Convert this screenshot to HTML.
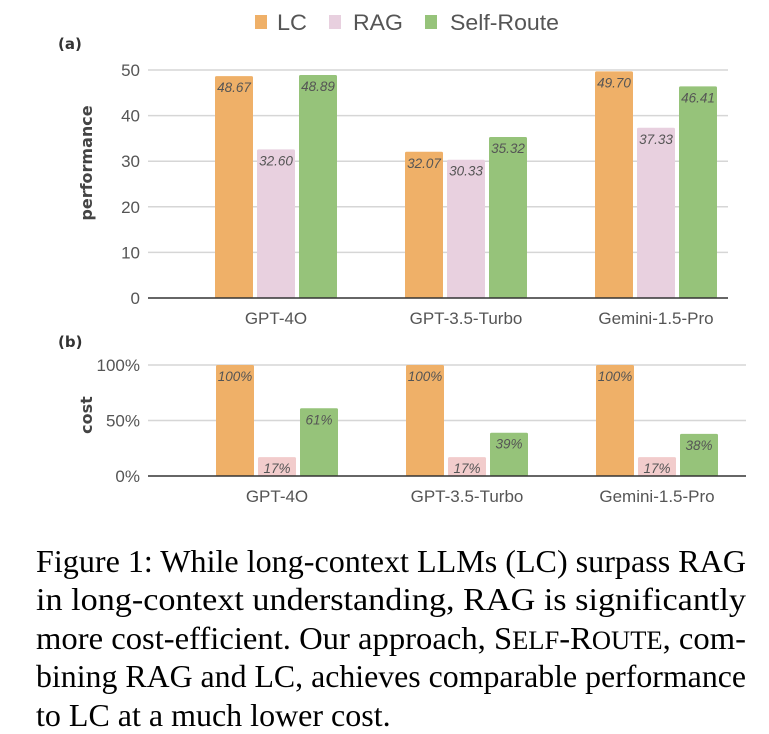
<!DOCTYPE html>
<html><head><meta charset="utf-8"><style>
body{margin:0;background:#fff;width:769px;height:734px;overflow:hidden}
svg{display:block}
.ax{font-family:"Liberation Sans",sans-serif;font-size:17px;fill:#555}
.vl{font-family:"Liberation Sans",sans-serif;font-size:13.5px;font-style:italic;fill:#555}
.cap{font-family:"Liberation Serif",serif;font-size:32px;fill:#000}
</style></head><body>
<svg id="fig" width="769" height="734">
  <g>
    <rect x="255" y="15" width="12" height="14" fill="#efb068"/>
    <text x="277" y="30" font-family="Liberation Sans" font-size="22" fill="#555" textLength="30" lengthAdjust="spacingAndGlyphs">LC</text>
    <rect x="329" y="15" width="12" height="14" fill="#e8d0df"/>
    <text x="353" y="30" font-family="Liberation Sans" font-size="22" fill="#555" textLength="50" lengthAdjust="spacingAndGlyphs">RAG</text>
    <rect x="425" y="15" width="12" height="14" fill="#96c37a"/>
    <text x="450" y="30" font-family="Liberation Sans" font-size="22" fill="#555" textLength="109" lengthAdjust="spacingAndGlyphs">Self-Route</text>
  </g>
  <text x="58" y="49" font-family="DejaVu Sans" font-size="15" font-weight="bold" fill="#333">(a)</text>
  <text x="58" y="347" font-family="DejaVu Sans" font-size="15" font-weight="bold" fill="#333">(b)</text>
  <text transform="translate(92,163) rotate(-90)" text-anchor="middle" font-family="DejaVu Sans" font-size="16" font-weight="bold" fill="#444">performance</text>
  <text transform="translate(92,415) rotate(-90)" text-anchor="middle" font-family="DejaVu Sans" font-size="16" font-weight="bold" fill="#444">cost</text>
  <g id="chartA"></g>
  <g id="chartB"></g>
  <g>
    <text class="cap" x="36" y="572" textLength="710" lengthAdjust="spacingAndGlyphs">Figure 1: While long-context LLMs (LC) surpass RAG</text>
    <text class="cap" x="36" y="610" textLength="710" lengthAdjust="spacingAndGlyphs">in long-context understanding, RAG is significantly</text>
    <text class="cap" x="36" y="649" textLength="710" lengthAdjust="spacingAndGlyphs">more cost-efficient. Our approach, S<tspan font-size="26">ELF</tspan>-R<tspan font-size="26">OUTE</tspan>, com-</text>
    <text class="cap" x="36" y="687" textLength="710" lengthAdjust="spacingAndGlyphs">bining RAG and LC, achieves comparable performance</text>
    <text class="cap" x="36" y="726">to LC at a much lower cost.</text>
  </g>
</svg>
<script>
const categories = ["GPT-4O", "GPT-3.5-Turbo", "Gemini-1.5-Pro"];
const perfLC = [48.67, 32.07, 49.70];
const perfRAG = [32.60, 30.33, 37.33];
const perfSR = [48.89, 35.32, 46.41];
const perfTicks = [0, 10, 20, 30, 40, 50];
const costLC = [100, 100, 100];
const costRAG = [17, 17, 17];
const costSR = [61, 39, 38];
const costTicks = [0, 50, 100];

const NS = "http://www.w3.org/2000/svg";
function mk(parent, tag, attrs, text) {
  const e = document.createElementNS(NS, tag);
  for (const k in attrs) e.setAttribute(k, attrs[k]);
  if (text !== undefined) e.textContent = text;
  parent.appendChild(e);
  return e;
}
function drawChart(g, cfg) {
  const y = v => cfg.y0 - (v - cfg.min) / (cfg.max - cfg.min) * (cfg.y0 - cfg.y1);
  const xc = i => cfg.c0 + i * cfg.step;
  cfg.ticks.forEach(t => {
    if (t !== 0) {
      const l = mk(g, "line", {x1: cfg.xa, x2: cfg.xb, y1: y(t), y2: y(t), stroke: "#d6d6d6", "stroke-width": 1.5});
      
      
    }
    const tx = mk(g, "text", {x: cfg.xa - 8, y: y(t) + 6, "text-anchor": "end", class: "ax"}, t + cfg.suffix);
    
    
  });
  cfg.series.forEach((s, si) => {
    s.vals.forEach((v, i) => {
      const bx = xc(i) + (si - 1) * 42 - 19;
      const r = mk(g, "rect", {x: bx, y: y(v), width: 38, height: y(0) - y(v), fill: s.color, rx: 1.5});
      
      
      const t = mk(g, "text", {x: bx + 19, y: y(v) + 16, "text-anchor": "middle", class: "vl"}, cfg.fmt(v));
      
      
    });
  });
  const ax = mk(g, "line", {x1: cfg.xa, x2: cfg.xb, y1: y(0), y2: y(0), stroke: "#333", "stroke-width": 1.5});
  
  
  categories.forEach((c, i) => {
    const t = mk(g, "text", {x: xc(i), y: y(0) + 26, "text-anchor": "middle", class: "ax"}, c);
    
    
  });
}
drawChart(document.getElementById("chartA"), {
  y0: 298, y1: 70, min: 0, max: 50, xa: 148, xb: 728, c0: 276, step: 190,
  ticks: perfTicks, suffix: "", fmt: v => v.toFixed(2),
  series: [{name: "lc", vals: perfLC, color: "#efb068"}, {name: "rag", vals: perfRAG, color: "#e8d0df"}, {name: "self-route", vals: perfSR, color: "#96c37a"}]
});
drawChart(document.getElementById("chartB"), {
  y0: 476, y1: 365, min: 0, max: 100, xa: 148, xb: 746, c0: 277, step: 190,
  ticks: costTicks, suffix: "%", fmt: v => v + "%",
  series: [{name: "lc", vals: costLC, color: "#efb068"}, {name: "rag", vals: costRAG, color: "#f2cccc"}, {name: "self-route", vals: costSR, color: "#96c37a"}]
});
</script>
</body></html>
